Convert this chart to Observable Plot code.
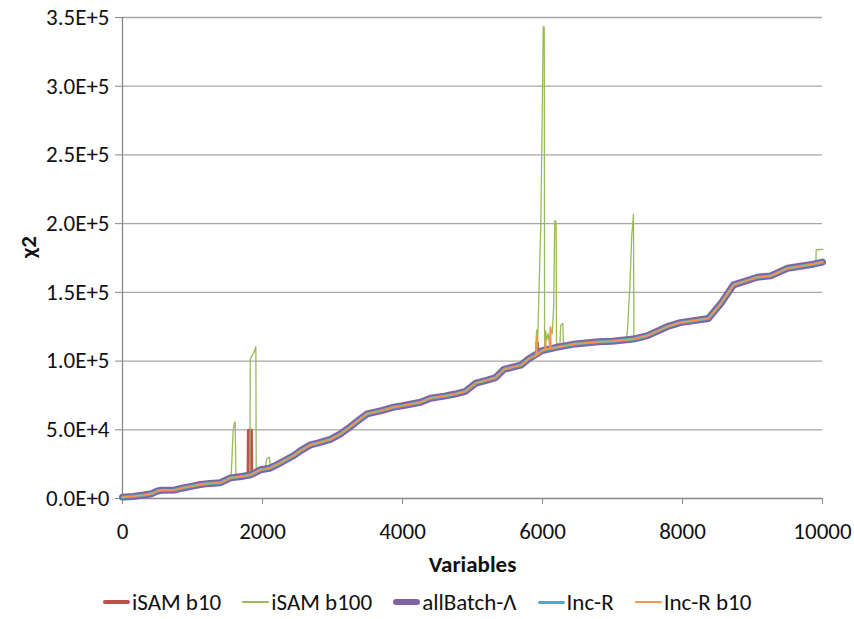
<!DOCTYPE html>
<html>
<head>
<meta charset="utf-8">
<script src="https://cdn.jsdelivr.net/npm/d3@7"></script>
<script src="https://cdn.jsdelivr.net/npm/@observablehq/plot@0.6"></script>
<style>
  html, body { margin: 0; padding: 0; background: #fff; }
  body { width: 854px; height: 619px; overflow: hidden; font-family: Carlito, Lato, "Liberation Sans", sans-serif; }
  #legend { display: flex; justify-content: flex-start; align-items: center; height: 34px; font-size: 23px; color: #111; padding-left: 103px; }
  #legend .item { display: flex; align-items: center; margin-right: 21px; }
  #legend .sw { display: inline-block; width: 27px; border-radius: 3px; margin-right: 2px; }
</style>
</head>
<body>
<div id="chart"></div>
<div id="legend"></div>
<script>
// ---- data ----
const seriesNames = ["iSAM b10", "iSAM b100", "allBatch-Λ", "Inc-R", "Inc-R b10"];
const seriesColors = ["#C0504D", "#9BBB59", "#8064A2", "#4BACC6", "#F79646"];

// shared baseline (all methods agree here)
const baseX = [0,150,300,420,500,560,750,850,1000,1114,1250,1400,1543,1700,1829,1900,1971,2100,2210,2330,2448,2550,2686,2800,2970,3114,3250,3400,3495,3700,3876,4000,4257,4400,4600,4750,4900,5050,5200,5330,5450,5690,5800,5995,6200,6471,6800,7000,7300,7500,7781,7970,8370,8550,8730,9070,9260,9500,9870,10000];
const baseY = [1000,1500,2500,3500,5500,6000,6200,7500,9000,10200,11000,11500,15000,16000,17200,19000,20900,22000,24700,28000,31300,35000,39000,40500,43000,47000,52000,58000,61600,64000,66500,67500,70000,73000,74500,76000,78000,84000,86000,88000,94000,97000,101500,107600,110000,112500,114000,114500,116000,118500,125000,128000,131000,142000,155500,161000,162000,167500,170500,172000];

// deviations from the baseline
const isamB10Spikes = [
  {x: [1795,1800,1840,1845], y: [17000,49500,49500,17500]},
  {x: [5915,5920,5928,5932], y: [104000,113000,113000,104500]}
];
const isamB100Spikes = [
  {x: [1550,1560,1580,1600,1610,1620], y: [15200,25000,49000,55500,55500,16000]},
  {x: [1820,1825,1850,1880,1905,1910,1971,2040,2060,2100,2110], y: [17000,101600,104000,106400,110500,22000,22500,23000,29000,30000,23500]},
  {x: [5910,5915,5925,5930,5935,5975,5995,6010,6025,6030,6045,6060,6080,6100,6115,6140,6160,6175,6195,6200,6250,6260,6290,6300], y: [104000,122000,123000,110000,123400,197300,273700,343300,343000,110000,122000,115000,120000,112000,124000,120000,140400,202200,201000,112700,112700,126000,127500,111000]},
  {x: [7200,7215,7250,7275,7300,7305], y: [115600,123400,156300,191300,207000,117000]},
  {x: [9905,9910,10000], y: [171000,181000,181300]}
];
const allBatchSpikes = [];
const incRSpikes = [];
const incRb10Spikes = [
  {x: [5910,5914,5918], y: [104000,118500,104300]},
  {x: [6040,6043,6047], y: [108500,116300,108600]},
  {x: [6110,6114,6118], y: [109000,124600,109200]}
];

const xTicks = [0, 2000, 4000, 6000, 8000, 10000];
const yTicks = [0, 50000, 100000, 150000, 200000, 250000, 300000, 350000];

// ---- build tables ----
function buildSeries(name, spikes) {
  let pts = baseX.map((x, i) => ({x, y: baseY[i]}));
  for (const s of spikes) {
    const lo = d3.min(s.x), hi = d3.max(s.x);
    pts = pts.filter(p => p.x < lo || p.x > hi);
    s.x.forEach((x, i) => pts.push({x, y: s.y[i]}));
  }
  pts.sort((a, b) => a.x - b.x);
  return pts.map(p => ({...p, series: name}));
}
const dIsamB10 = buildSeries(seriesNames[0], isamB10Spikes);
const dIsamB100 = buildSeries(seriesNames[1], isamB100Spikes);
const dAllBatch = buildSeries(seriesNames[2], allBatchSpikes);
const dIncR = buildSeries(seriesNames[3], incRSpikes);
const dIncRb10 = buildSeries(seriesNames[4], incRb10Spikes);

const yFmt = d => d3.format(".1e")(d).replace("e", "E");
const FONT = 'Carlito, Lato, "Liberation Sans", sans-serif';
const FS = 23;

const chart = Plot.plot({
  width: 854,
  height: 585,
  marginLeft: 122,
  marginRight: 32,
  marginTop: 17,
  marginBottom: 87,
  style: {fontFamily: FONT, fontSize: FS + "px", color: "#111", background: "#fff"},
  x: {domain: [0, 10000], ticks: xTicks, tickFormat: d => String(d)},
  y: {domain: [0, 350000], ticks: yTicks, tickFormat: yFmt},
  marks: [
    Plot.ruleY(yTicks.slice(1), {stroke: "#a6a6a6", strokeWidth: 1.3}),
    Plot.axisX({ticks: xTicks, tickFormat: d => String(d), tickSize: 6, tickPadding: 18, stroke: "#888", label: null, fontSize: FS}),
    Plot.axisY({ticks: yTicks, tickFormat: yFmt, tickSize: 7, tickPadding: 6, stroke: "#888", label: null, fontSize: FS}),
    Plot.ruleX([0], {stroke: "#888", strokeWidth: 1.3}),
    Plot.ruleY([0], {stroke: "#888", strokeWidth: 1.3}),
    Plot.line(dIsamB10, {x: "x", y: "y", stroke: seriesColors[0], strokeWidth: 3.2, curve: "linear"}),
    Plot.line(dIsamB100, {x: "x", y: "y", stroke: seriesColors[1], strokeWidth: 1.3}),
    Plot.line(dAllBatch, {x: "x", y: "y", stroke: seriesColors[2], strokeWidth: 7, strokeLinejoin: "round"}),
    Plot.line(dIncR, {x: "x", y: "y", stroke: seriesColors[3], strokeWidth: 3.2}),
    Plot.line(dIncRb10, {x: "x", y: "y", stroke: seriesColors[4], strokeWidth: 1.8}),
    Plot.text(["Variables"], {frameAnchor: "bottom", dy: 73, fontWeight: "bold", fontSize: FS, fill: "#111"}),
    Plot.text(["χ2"], {frameAnchor: "left", dx: -94, rotate: -90, fontWeight: "bold", fontSize: FS, fill: "#111"})
  ]
});
document.getElementById("chart").appendChild(chart);

// legend
const swatchH = [3.5, 1.5, 6, 3, 2];
const legend = document.getElementById("legend");
seriesNames.forEach((n, i) => {
  const item = document.createElement("div");
  item.className = "item";
  const sw = document.createElement("span");
  sw.className = "sw";
  sw.style.background = seriesColors[i];
  sw.style.height = swatchH[i] + "px";
  item.appendChild(sw);
  const t = document.createElement("span");
  t.textContent = n;
  item.appendChild(t);
  legend.appendChild(item);
});
</script>
</body>
</html>
